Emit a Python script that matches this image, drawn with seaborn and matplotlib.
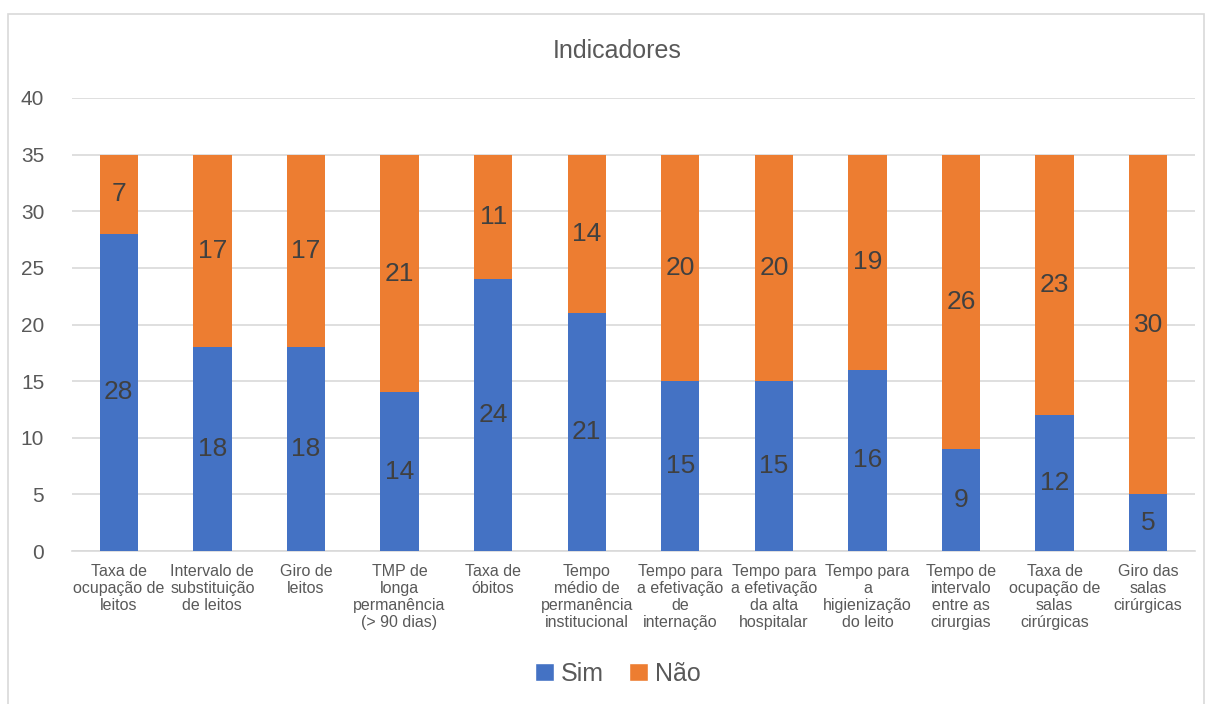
import matplotlib
matplotlib.use("Agg")
import matplotlib.pyplot as plt
import seaborn as sns
import pandas as pd
from matplotlib.patches import Rectangle, Patch

categories = [
    "Taxa de\nocupação de\nleitos",
    "Intervalo de\nsubstituição\nde leitos",
    "Giro de\nleitos",
    "TMP de\nlonga\npermanência\n(> 90 dias)",
    "Taxa de\nóbitos",
    "Tempo\nmédio de\npermanência\ninstitucional",
    "Tempo para\na efetivação\nde\ninternação",
    "Tempo para\na efetivação\nda alta\nhospitalar",
    "Tempo para\na\nhigienização\ndo leito",
    "Tempo de\nintervalo\nentre as\ncirurgias",
    "Taxa de\nocupação de\nsalas\ncirúrgicas",
    "Giro das\nsalas\ncirúrgicas",
]
sim = [28, 18, 18, 14, 24, 21, 15, 15, 16, 9, 12, 5]
nao = [7, 17, 17, 21, 11, 14, 20, 20, 19, 26, 23, 30]
yticks = [0, 5, 10, 15, 20, 25, 30, 35, 40]

BLUE = "#4472C4"
ORANGE = "#ED7D31"
GRID = "#D9D9D9"
TXT = "#595959"
LBL = "#404040"

sns.set_theme(style="white")
plt.rcParams["font.family"] = ["Liberation Sans", "DejaVu Sans"]

df = pd.DataFrame({"cat": categories, "sim": sim, "nao": nao})
df["total"] = df["sim"] + df["nao"]

fig = plt.figure(figsize=(12.12, 7.04), dpi=100)
ax = fig.add_axes([0.0594, 0.2173, 0.9266, 0.6435])

sns.barplot(data=df, x="cat", y="total", color=ORANGE, saturation=1, width=0.41, ax=ax,
            zorder=2, linewidth=0, edgecolor="none")
sns.barplot(data=df, x="cat", y="sim", color=BLUE, saturation=1, width=0.41, ax=ax,
            zorder=3, linewidth=0, edgecolor="none")

for i, (s, n) in enumerate(zip(sim, nao)):
    ax.text(i, s / 2, str(s), ha="center", va="center", fontsize=19, color=LBL, zorder=5)
    ax.text(i, s + n / 2, str(n), ha="center", va="center", fontsize=19, color=LBL, zorder=5)

ax.set_ylim(0, 40)
ax.set_xlim(-0.5, len(categories) - 0.5)
ax.set_yticks(yticks)
ax.set_yticklabels([str(v) for v in yticks], fontsize=15, color=TXT)
ax.set_xticks(range(len(categories)))
ax.set_xticklabels(categories, fontsize=11.5, color=TXT, linespacing=1.18, va="top")
ax.tick_params(axis="x", length=0, pad=9)
ax.tick_params(axis="y", length=0, pad=20)
ax.grid(axis="y", color=GRID, linewidth=1.2, zorder=0)
ax.set_axisbelow(True)
for sp in ["top", "right", "left"]:
    ax.spines[sp].set_visible(False)
ax.spines["bottom"].set_color(GRID)
ax.spines["bottom"].set_linewidth(1.2)
ax.set_xlabel("")
ax.set_ylabel("")

fig.text(0.509, 0.927, "Indicadores", ha="center", va="center", fontsize=18, color=TXT)

handles = [Patch(facecolor=BLUE, label="Sim"), Patch(facecolor=ORANGE, label="Não")]
fig.legend(handles=handles, loc="center", bbox_to_anchor=(0.51, 0.043), ncol=2, frameon=False,
           fontsize=18, labelcolor=TXT, handlelength=0.75, handleheight=0.75, handletextpad=0.3,
           columnspacing=1.0)

fig.patches.append(Rectangle((8 / 1212, -0.01), 1196 / 1212, 1 - 14 / 704 + 0.01,
                             transform=fig.transFigure, fill=False, edgecolor=GRID, linewidth=1.2))

fig.savefig("out.png", dpi=100, facecolor="white")
